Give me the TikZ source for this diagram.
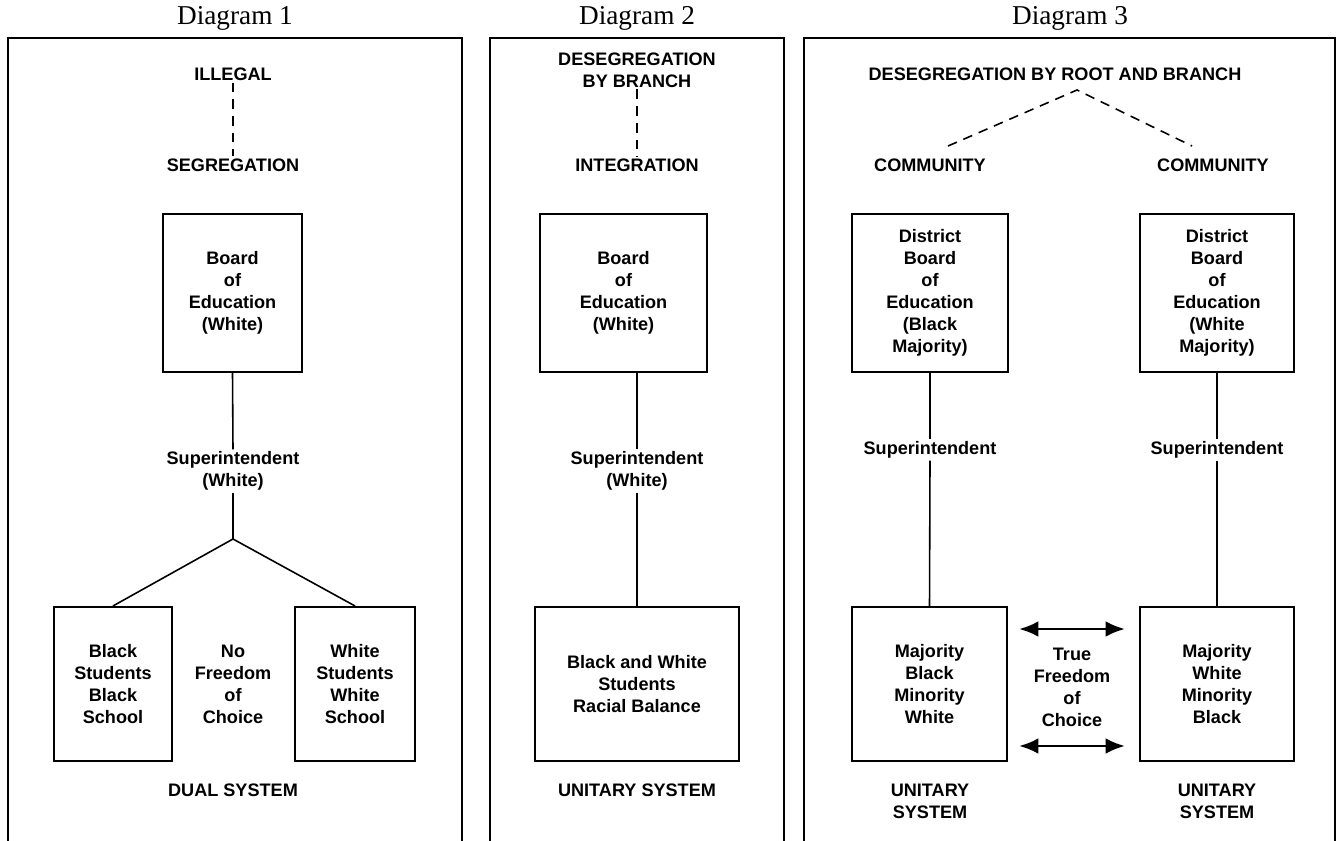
\documentclass[tikz,border=0pt]{standalone}
\usepackage{fontspec}
\setmainfont{Liberation Serif}
\newfontfamily\labfont{Liberation Sans}
\usetikzlibrary{arrows.meta,calc}
\begin{document}
\begin{tikzpicture}[x=0.02cm,y=-0.02cm,
 lab/.style={font=\labfont\bfseries\fontsize{10.3}{12.5}\selectfont, align=center, inner sep=1pt},
 ttl/.style={font=\fontsize{15.5}{18}\selectfont, inner sep=0pt},
 bx/.style={draw, line width=1.2pt, lab},
 conn/.style={line width=0.9pt},
 dsh/.style={line width=0.9pt, dash pattern=on 5.5pt off 4pt},
 panelline/.style={line width=0.8pt},
 dbl/.style={line width=1.6pt, {Latex[length=11pt,width=9pt]}-{Latex[length=11pt,width=9pt]}}
]
\useasboundingbox (0,0) rectangle (1341,841);
% titles
\node[ttl] (t1) at (235,18) {Diagram 1};
\node[ttl] (t2) at (637,18) {Diagram 2};
\node[ttl] (t3) at (1070,18) {Diagram 3};
% panels
\draw[panelline] (8,841) -- (8,38) -- (462,38) -- (462,841);
\draw[panelline] (490,841) -- (490,38) -- (784,38) -- (784,841);
\draw[panelline] (804,841) -- (804,38) -- (1335,38) -- (1335,841);
% ---------- Diagram 1
\node[lab] (ill) at (233,74) {ILLEGAL};
\node[lab] (seg) at (233,165) {SEGREGATION};
\draw[dsh] (ill.south) -- (seg.north);
\node[bx, minimum width=2.78cm, minimum height=3.16cm] (b1) at (232.5,293) {Board\\of\\Education\\(White)};
\node[lab] (s1) at (233,471) {Superintendent\\(White)};
\draw[conn] (b1.south) -- (s1.north);
\coordinate (ap1) at (233,539);
\draw[conn] (s1.south) -- (ap1);
\node[bx, minimum width=2.36cm, minimum height=3.08cm] (lb1) at (113,684) {Black\\Students\\Black\\School};
\node[bx, minimum width=2.4cm, minimum height=3.08cm] (rb1) at (355,684) {White\\Students\\White\\School};
\draw[conn] (lb1.north) -- (ap1) -- (rb1.north);
\node[lab] (nf) at (233,684) {No\\Freedom\\of\\Choice};
\node[lab] (dual) at (233,790) {DUAL SYSTEM};
% ---------- Diagram 2
\node[lab] (des2) at (637,70) {DESEGREGATION\\BY BRANCH};
\node[lab] (int2) at (637,165) {INTEGRATION};
\draw[dsh] (des2.south) -- (int2.north);
\node[bx, minimum width=3.34cm, minimum height=3.16cm] (b2) at (623.5,293) {Board\\of\\Education\\(White)};
\node[lab] (s2) at (637,471) {Superintendent\\(White)};
\draw[conn] (b2.south -| s2.north) -- (s2.north);
\node[bx, minimum width=4.08cm, minimum height=3.08cm] (bb2) at (637,684) {Black and White\\Students\\Racial Balance};
\draw[conn] (s2.south) -- (bb2.north);
\node[lab] (uni2) at (637,790) {UNITARY SYSTEM};
% ---------- Diagram 3
\node[lab] (root) at (1055,74) {DESEGREGATION BY ROOT AND BRANCH};
\coordinate (ap3) at (1077,90);
\node[lab] (c3l) at (930,165) {COMMUNITY};
\node[lab] (c3r) at (1213,165) {COMMUNITY};
\coordinate (e3l) at (948,146);
\coordinate (e3r) at (1192,146);
\draw[dsh] (e3l) -- (ap3) -- (e3r);
\node[bx, minimum width=3.12cm, minimum height=3.16cm] (d3l) at (930,293) {District\\Board\\of\\Education\\(Black\\Majority)};
\node[bx, minimum width=3.08cm, minimum height=3.16cm] (d3r) at (1217,293) {District\\Board\\of\\Education\\(White\\Majority)};
\node[lab] (s3l) at (930,450) {Superintendent};
\node[lab] (s3r) at (1217,450) {Superintendent};
\node[bx, minimum width=3.1cm, minimum height=3.08cm] (m3l) at (929.5,684) {Majority\\Black\\Minority\\White};
\node[bx, minimum width=3.08cm, minimum height=3.08cm] (m3r) at (1217,684) {Majority\\White\\Minority\\Black};
\draw[conn] (d3l.south) -- (s3l.north);
\draw[conn] (s3l.south) -- (m3l.north);
\draw[conn] (d3r.south) -- (s3r.north);
\draw[conn] (s3r.south) -- (m3r.north);
\node[lab] (tf) at (1072,687) {True\\Freedom\\of\\Choice};
\draw[dbl] ([shift={(11,-55)}]m3l.east) -- ([shift={(-14,-55)}]m3r.west);
\draw[dbl] ([shift={(11,62)}]m3l.east) -- ([shift={(-14,62)}]m3r.west);
\node[lab] (u3l) at (930,801) {UNITARY\\SYSTEM};
\node[lab] (u3r) at (1217,801) {UNITARY\\SYSTEM};
\end{tikzpicture}
\end{document}
